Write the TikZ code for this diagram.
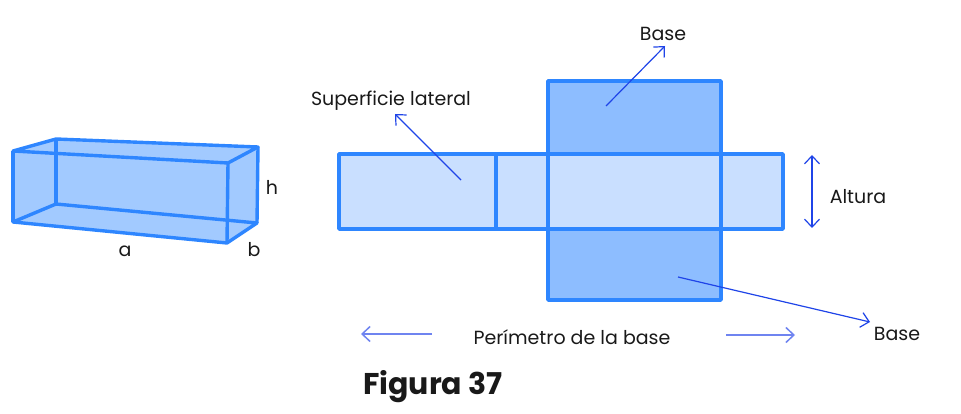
\documentclass[tikz,border=0pt]{standalone}
\usepackage{fontspec}
\setmainfont{Poppins}
\usetikzlibrary{arrows.meta}
\definecolor{edgeblue}{HTML}{2E86FF}
\definecolor{arrowblue}{HTML}{1F44E8}
\definecolor{paleblue}{HTML}{6F84F0}
\definecolor{prismfill}{HTML}{A2CAFF}
\definecolor{stripfill}{HTML}{C9DFFF}
\definecolor{basefill}{HTML}{8DBDFF}
\tikzset{
    edge/.style={draw=edgeblue, line width=3.4pt, line join=round},
    pointer/.style={->, draw=arrowblue, line width=1.2pt},
    label/.style={inner sep=0pt, text=black!90, font=\fontsize{19}{22}\selectfont},
}
\begin{document}
\begin{tikzpicture}[x=1pt, y=-1pt, >={Straight Barb[length=8pt, width=15pt]}]
        \useasboundingbox (0,0) rectangle (961,414);
        % prism
        \coordinate (p1) at (13,151);
        \coordinate (p2) at (56,139);
        \coordinate (p3) at (258,147);
        \coordinate (p4) at (228,163);
        \coordinate (p5) at (13,222);
        \coordinate (p6) at (56,204);
        \coordinate (p7) at (257,223);
        \coordinate (p8) at (227,243);
        \fill [prismfill] (p1) -- (p2) -- (p3) -- (p7) -- (p8) -- (p5) -- cycle;
        \draw [edge] (p1) -- (p2) -- (p3) -- (p4) -- cycle;
        \draw [edge] (p5) -- (p6) -- (p7) -- (p8) -- cycle;
        \draw [edge] (p1) -- (p5);
        \draw [edge] (p2) -- (p6);
        \draw [edge] (p3) -- (p7);
        \draw [edge] (p4) -- (p8);
        \node [label] (a) at (125,251) {a};
        \node [label] (b) at (254,250) {b};
        \node [label] (h) at (272,187) {h};
        % net
        \draw [edge, fill=basefill] (548,81) rectangle (721,154);
        \draw [edge, fill=basefill] (548,229) rectangle (721,300);
        \draw [edge, fill=stripfill] (339,154) rectangle (783,229);
        \draw [edge] (496,154) -- (496,229);
        \draw [edge] (548,154) -- (548,229);
        \draw [edge] (721,154) -- (721,229);
        % labels
        \node [label] (lateral) at (391,101) {Superficie lateral};
        \node [label] (basetop) at (663,34) {Base};
        \node [label] (basebot) at (897,334) {Base};
        \node [label] (altura) at (858,197) {Altura};
        \node [label] (perimetro) at (572,337) {Perímetro de la base};
        \node [label, font=\fontsize{30}{34}\selectfont\bfseries] (figura) at (433,387) {Figura 37};
        % pointers
        \coordinate (c1) at (461,180);
        \coordinate (c2) at (395,114);
        \coordinate (c3) at (606,106);
        \coordinate (c4) at (665,46);
        \coordinate (c5) at (812,155);
        \coordinate (c6) at (812,228);
        \coordinate (c7) at (678,277);
        \coordinate (c8) at (870,322);
        \coordinate (c9) at (432,334);
        \coordinate (c10) at (361,334);
        \coordinate (c11) at (726,335);
        \coordinate (c12) at (795,335);
        \draw [pointer] (c1) -- (c2);
        \draw [pointer] (c3) -- (c4);
        \draw [pointer, <->] (c5) -- (c6);
        \draw [pointer] (c7) -- (c8);
        \draw [pointer, draw=paleblue, line width=1.5pt] (c9) -- (c10);
        \draw [pointer, draw=paleblue, line width=1.5pt] (c11) -- (c12);
    \end{tikzpicture}
\end{document}
